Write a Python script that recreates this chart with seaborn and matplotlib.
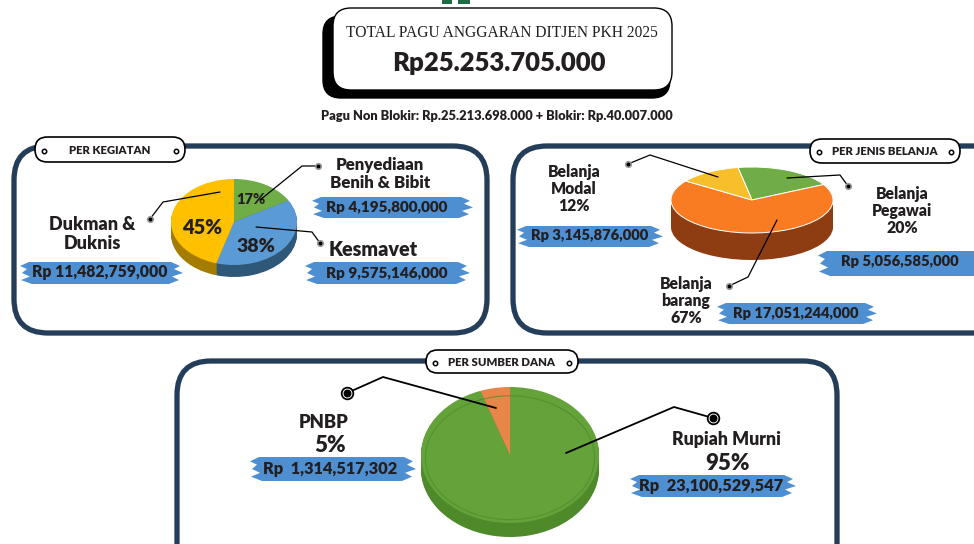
import numpy as np
import matplotlib
matplotlib.use("Agg")
import matplotlib.pyplot as plt
import seaborn as sns
from matplotlib.patches import FancyBboxPatch, Polygon, Rectangle, Ellipse

sns.set_theme(style="white")
plt.rcParams["font.family"] = ["Lato", "DejaVu Sans"]

W, H = 974, 544

# ------------------------------------------------------------
# data
# ------------------------------------------------------------
total_pagu = 25253705000
non_blokir = 25213698000
blokir = 40007000

kegiatan = ["Penyediaan\nBenih & Bibit", "Kesmavet", "Dukman &\nDuknis"]
kegiatan_rp = [4195800000, 9575146000, 11482759000]
kegiatan_pct = [17, 38, 45]

belanja = ["Belanja\nPegawai", "Belanja\nbarang", "Belanja\nModal"]
belanja_rp = [5056585000, 17051244000, 3145876000]
belanja_pct = [20, 67, 12]

sumber = ["Rupiah Murni", "PNBP"]
sumber_rp = [23100529547, 1314517302]
sumber_pct = [95, 5]

INK = "#231f20"
NAVY = "#243d59"
BRUSH = "#4d8fd1"
WT = "heavy"


def rp_dot(v):
    return f"{v:,}".replace(",", ".")


fig = plt.figure(figsize=(W / 100, H / 100), dpi=100)
fig.patch.set_facecolor("white")

bg = fig.add_axes([0, 0, 1, 1], zorder=0)
fg = fig.add_axes([0, 0, 1, 1], zorder=3)
for a in (bg, fg):
    a.set_xlim(0, W)
    a.set_ylim(H, 0)
    a.axis("off")
    a.patch.set_alpha(0)


def label(x, y, s, size, **kw):
    fg.text(x, y, s, ha="center", va="center", fontsize=size, fontweight=WT,
            color=INK, zorder=7, **kw)


def rbox(ax, x, y, w, h, r, **kw):
    ax.add_patch(FancyBboxPatch((x, y), w, h, boxstyle=f"round,pad=0,rounding_size={r}", **kw))


def pill(ax, x0, x1, y0, y1, text):
    rbox(ax, x0, y0, x1 - x0, y1 - y0, (y1 - y0) / 2, fc="white", ec="black", lw=1.2, zorder=5)
    ym = (y0 + y1) / 2
    ax.text((x0 + x1) / 2, ym + 0.5, text, ha="center", va="center", fontsize=8.2,
            fontweight=WT, color=INK, zorder=6)
    ax.scatter([x0 + 9, x1 - 9], [ym + 1, ym + 1], s=10, facecolor="white",
               edgecolor="black", lw=1.1, zorder=6)


def brush(ax, x0, x1, y0, y1):
    h = y1 - y0
    fr = [0.0, 0.18, 0.32, 0.5, 0.66, 0.82, 1.0]
    rj = [12, 3, 9, 0, 11, 4, 14]
    lj = [9, 0, 7, 2, 10, 1, 12]
    pts = [(x1 - rj[i], y0 + f * h) for i, f in enumerate(fr)]
    pts += [(x0 + lj[i], y0 + f * h) for i, f in reversed(list(enumerate(fr)))]
    ax.add_patch(Polygon(pts, closed=True, fc=BRUSH, ec="none", zorder=1))


def leader(ax, pts, big=False):
    xs, ys = zip(*pts)
    ax.plot(xs, ys, color="black", lw=0.9 if not big else 1.3, zorder=7)
    if big:
        ax.scatter([xs[0]], [ys[0]], s=70, facecolor="white", edgecolor="black", lw=1.3, zorder=8)
        ax.scatter([xs[0]], [ys[0]], s=22, facecolor="black", zorder=9)
    else:
        ax.scatter([xs[0]], [ys[0]], s=16, facecolor="black", edgecolor="#9a9a9a", lw=1.2, zorder=8)


def pie3d(cx, cy, rx, ry, depth, values, colors, sides, start, edge="white"):
    m = 0.06
    dy = depth / ry
    left = cx - (1 + m) * rx
    top = cy - (1 + m) * ry
    w = 2 * (1 + m) * rx
    h = 2 * (1 + m) * ry + depth
    ax = fig.add_axes([left / W, 1 - (top + h) / H, w / W, h / H], zorder=2)
    for s in np.linspace(dy, 0, 16)[:-1]:
        ax.pie(values, colors=sides, startangle=start, counterclock=False,
               center=(0, -s), radius=1, wedgeprops=dict(linewidth=0))
    ax.pie(values, colors=colors, startangle=start, counterclock=False,
           wedgeprops=dict(linewidth=0.7, edgecolor=edge))
    ax.set_aspect("auto")
    ax.set_xlim(-1 - m, 1 + m)
    ax.set_ylim(-1 - m - dy, 1 + m)
    ax.axis("off")
    ax.patch.set_alpha(0)
    return ax


# ------------------------------------------------------------
# header
# ------------------------------------------------------------
bg.add_patch(Rectangle((442, 0), 10, 4, fc="#1f6b45", ec="none"))
bg.add_patch(Rectangle((458, 0), 12, 4, fc="#1f6b45", ec="none"))
rbox(bg, 323, 16, 347, 82, 18, fc="black", ec="black", lw=1)
rbox(bg, 333, 8, 339, 82, 18, fc="white", ec="black", lw=1.0)
bg.text(502, 33, "TOTAL PAGU ANGGARAN DITJEN PKH 2025", ha="center", va="center",
        fontsize=11.2, family=["Liberation Serif", "DejaVu Serif"], color=INK)
bg.text(499, 63, f"Rp{rp_dot(total_pagu)}", ha="center", va="center",
        fontsize=18.5, fontweight=WT, color=INK)
bg.text(497, 116, f"Pagu Non Blokir: Rp.{rp_dot(non_blokir)} + Blokir: Rp.{rp_dot(blokir)}",
        ha="center", va="center", fontsize=9.3, fontweight=WT, color=INK)

# ------------------------------------------------------------
# panels
# ------------------------------------------------------------
rbox(bg, 14, 146, 473, 187, 34, fc="white", ec=NAVY, lw=3.8)
rbox(bg, 513, 146, 500, 187, 34, fc="white", ec=NAVY, lw=3.8)
rbox(bg, 177, 361, 660, 220, 34, fc="white", ec=NAVY, lw=3.8)
pill(fg, 35, 185, 137, 162, "PER KEGIATAN")
pill(fg, 810, 960, 139, 163, "PER JENIS BELANJA")
pill(fg, 426, 578, 350, 373, "PER SUMBER DANA")

# ------------------------------------------------------------
# per kegiatan
# ------------------------------------------------------------
pie3d(234, 222, 63, 43, 12, kegiatan_rp,
      ["#70ad47", "#5b9bd5", "#ffc000"], ["#4e7f30", "#2f5878", "#a37c00"], 90, edge="none")
label(251, 200, f"{kegiatan_pct[0]}%", 10.5)
label(256, 246, f"{kegiatan_pct[1]}%", 14)
label(202, 227, f"{kegiatan_pct[2]}%", 14.5)

leader(fg, [(318, 166), (302, 166), (260, 200)])
leader(fg, [(320, 243), (312, 232), (256, 227)])
leader(fg, [(150, 219), (163, 202), (220, 192)])

label(380, 174, kegiatan[0], 12.2, linespacing=1.1)
brush(bg, 312, 473, 197, 218)
label(387, 208, f"Rp {kegiatan_rp[0]:,}", 11)
label(373, 250, kegiatan[1], 14.2)
brush(bg, 305, 470, 262, 284)
label(387, 273, f"Rp {kegiatan_rp[1]:,}", 11)
label(92, 234, kegiatan[2], 13, linespacing=1.15)
brush(bg, 20, 183, 262, 284)
label(100, 272, f"Rp {kegiatan_rp[2]:,}", 11.3)

# ------------------------------------------------------------
# per jenis belanja
# ------------------------------------------------------------
pie3d(752, 200, 81, 33, 27, belanja_rp,
      ["#70ad47", "#f97b22", "#f8bf2c"], ["#4d7a2f", "#8e3d12", "#a77c12"], 100)
leader(fg, [(628, 164), (650, 155), (718, 177)])
leader(fg, [(848, 186), (840, 175), (787, 178)])
leader(fg, [(729, 286), (748, 277), (777, 220)])

label(574, 189, f"{belanja[2]}\n{belanja_pct[2]}%", 11.3, linespacing=1.1)
brush(bg, 517, 663, 226, 247)
label(590, 236, f"Rp {belanja_rp[2]:,}", 10.6)
label(902, 211, f"{belanja[0]}\n{belanja_pct[0]}%", 11.3, linespacing=1.1)
brush(bg, 818, 990, 251, 276)
label(900, 262, f"Rp {belanja_rp[0]:,}", 10.6)
label(686, 301, f"{belanja[1]}\n{belanja_pct[1]}%", 11.3, linespacing=1.1)
brush(bg, 717, 877, 303, 324)
label(796, 313, f"Rp {belanja_rp[1]:,}", 10.6)

# ------------------------------------------------------------
# per sumber dana
# ------------------------------------------------------------
ax3 = pie3d(510, 455, 89, 68, 14, sumber_rp,
            ["#63a33a", "#e8864a"], ["#4f8a2a", "#b8602c"], 90, edge="none")
ax3.add_patch(Ellipse((0, -0.04), 1.9, 1.82, fill=False, ec="#4f8a2a", lw=0.8, alpha=0.7))
leader(fg, [(347, 393), (383, 377), (496, 408)], big=True)
leader(fg, [(713, 418), (674, 407), (566, 453)], big=True)

label(324, 422, sumber[1], 13.2)
label(330, 446, f"{sumber_pct[1]}%", 16)
brush(bg, 250, 416, 457, 481)
label(330, 469, f"Rp  {sumber_rp[1]:,}", 11.8)
label(727, 439, sumber[0], 12.8)
label(727, 463, f"{sumber_pct[0]}%", 16)
brush(bg, 630, 796, 475, 497)
label(711, 486, f"Rp  {sumber_rp[0]:,}", 11.8)

fig.savefig("out.png", dpi=100, facecolor="white")
